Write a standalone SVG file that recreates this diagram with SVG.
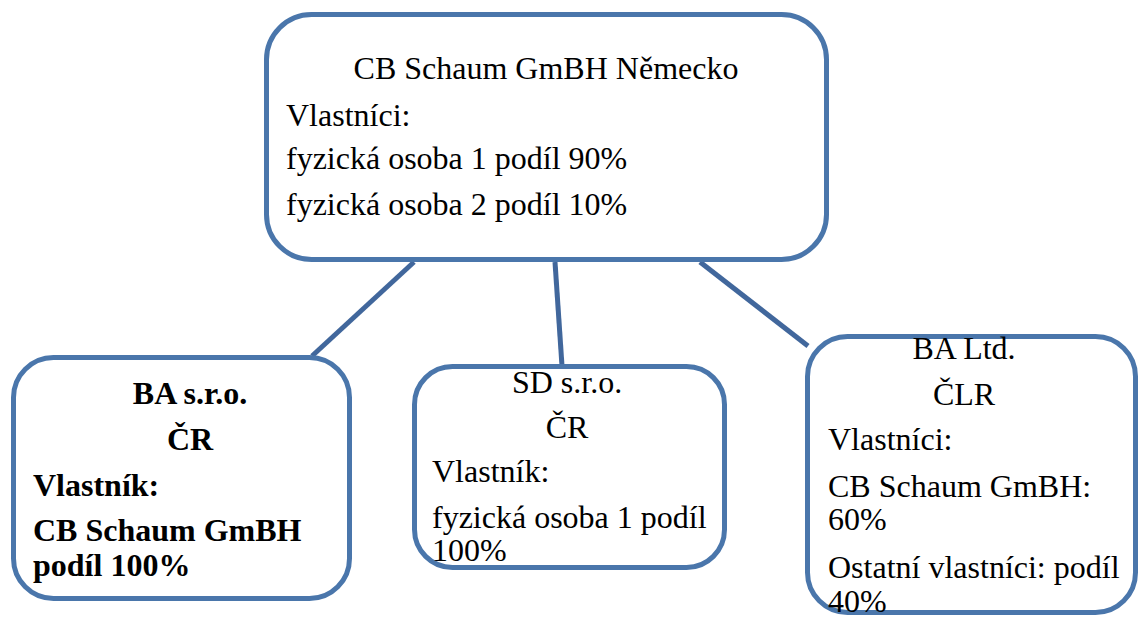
<svg xmlns="http://www.w3.org/2000/svg" width="1138" height="617" viewBox="0 0 1138 617">
<style>
.box{fill:#fff;stroke:#4a76ab;stroke-width:5}
.con{stroke:#41679c;stroke-width:5;fill:none}
.t{font-family:'Liberation Serif', 'DejaVu Serif', serif;font-size:32px;fill:#000}
.c{text-anchor:middle}
.b{font-weight:bold}
</style>
<rect width="1138" height="617" fill="#fff"/>
<g id="connectors">
<line class="con" x1="414" y1="262" x2="312" y2="356"/>
<line class="con" x1="555" y1="262" x2="562" y2="366"/>
<line class="con" x1="700" y1="262" x2="808" y2="346"/>
</g>
<g id="node-cb" class="t">
<rect class="box" x="266.5" y="14.5" width="560" height="245" rx="45"/>
<text class="c" x="546" y="79">CB Schaum GmBH Německo</text>
<text x="286" y="126">Vlastníci:</text>
<text x="286" y="169">fyzická osoba 1 podíl 90%</text>
<text x="286" y="215">fyzická osoba 2 podíl 10%</text>
</g>
<g id="node-ba-sro" class="t">
<rect class="box" x="13.5" y="357.5" width="336" height="241" rx="40"/>
<text class="c b" x="190" y="404">BA s.r.o.</text>
<text class="c b" x="190" y="450">ČR</text>
<text class="b" x="33" y="496">Vlastník:</text>
<text class="b" x="33" y="541">CB Schaum GmBH</text>
<text class="b" x="33" y="576">podíl 100%</text>
</g>
<g id="node-sd" class="t">
<rect class="box" x="414.5" y="366.5" width="310" height="201" rx="38"/>
<text class="c" x="567" y="393">SD s.r.o.</text>
<text class="c" x="567" y="438">ČR</text>
<text x="432" y="482">Vlastník:</text>
<text x="432" y="528">fyzická osoba 1 podíl</text>
<text x="432" y="561">100%</text>
</g>
<g id="node-ba-ltd" class="t">
<rect class="box" x="807.5" y="336.5" width="328" height="276" rx="40"/>
<text class="c" x="964" y="359">BA Ltd.</text>
<text class="c" x="964" y="405">ČLR</text>
<text x="828" y="450">Vlastníci:</text>
<text x="828" y="497">CB Schaum GmBH:</text>
<text x="828" y="530">60%</text>
<text x="828" y="578">Ostatní vlastníci: podíl</text>
<text x="828" y="612">40%</text>
</g>
</svg>
